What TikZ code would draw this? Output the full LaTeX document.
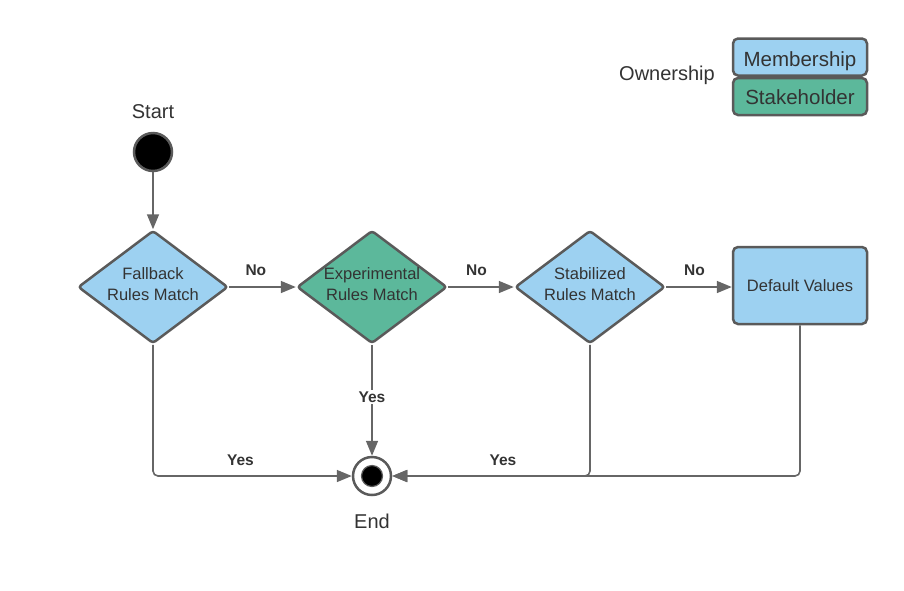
\documentclass[tikz,border=0pt]{standalone}
\usepackage{fontspec}
\setmainfont{Liberation Sans}
\usetikzlibrary{shapes.geometric,arrows.meta,positioning}
\definecolor{member}{HTML}{9DD1F1}
\definecolor{stake}{HTML}{5CB89B}
\definecolor{outline}{HTML}{5A5A5A}
\definecolor{flowgray}{HTML}{666666}
\definecolor{txt}{HTML}{333333}
\tikzset{
%%%%%%%%%% Node styles
decision/.style={diamond, draw=outline, line width=2.5pt, rounded corners=3pt,
                 inner sep=0pt, minimum width=150pt, minimum height=113pt,
                 shape aspect=1.33},
rulestext/.style={align=center, text=txt, yshift=3pt,
                  font=\fontsize{16.5}{21}\selectfont},
action/.style={rectangle, draw=outline, line width=2.5pt, rounded corners=5pt,
               minimum width=134pt, minimum height=77pt, align=center, text=txt,
               font=\fontsize{16.5}{21}\selectfont},
ownbox/.style={rectangle, draw=outline, line width=2.5pt, rounded corners=5pt,
               minimum width=134pt, minimum height=37pt, text=txt,
               font=\fontsize{20.5}{24}\selectfont},
startdot/.style={circle, fill=black, draw=outline, line width=2.5pt,
                 minimum size=38pt, inner sep=0pt},
enddot/.style={circle, fill=white, draw=outline, line width=2.5pt,
               minimum size=38pt, inner sep=0pt},
caption/.style={text=txt, inner sep=0pt, font=\fontsize{20}{24}\selectfont},
%%%% edge styles
flow/.style={draw=flowgray, line width=1.6pt},
answer/.style={text=txt, inner sep=2pt, font=\fontsize{15.5}{18}\bfseries\selectfont}
}
\tikzset{>={Triangle[length=15pt,width=12pt]}}

\begin{document}
\begin{tikzpicture}[x=1pt,y=-1pt]
\useasboundingbox (0,0) rectangle (904,590);
%% legend
\node[caption] (owner) at (667,75) {Ownership};
\node[ownbox, fill=member, text depth=4pt, text height=23pt] (member) at (800,57) {Membership};
\node[ownbox, fill=stake, text depth=4pt, text height=19pt] (stake) at (800,96.5) {Stakeholder};
%% start and end
\node[caption] (starttxt) at (153,112) {Start};
\node[startdot] (start) at (153,152) {};
\node[enddot] (finish) at (372,476) {};
\filldraw[fill=black, draw=outline, line width=1.2pt] (finish.center) circle (10.5);
\node[caption] (endtxt) at (372,521) {End};
%% rules
\node[decision, fill=member, label={[rulestext]center:Fallback\\Rules Match}] (fallback) at (153,287) {};
\node[decision, fill=stake, label={[rulestext]center:Experimental\\Rules Match}] (experimental) at (372,287) {};
\node[decision, fill=member, label={[rulestext]center:Stabilized\\Rules Match}] (stabilized) at (590,287) {};
\node[action, fill=member] (default) at (800,285.5) {Default Values};
%% connectors
\draw[flow,->] (start) -- (fallback);
\draw[flow,->] (fallback) -- node[answer, above=9pt, pos=0.4] {No} (experimental);
\draw[flow,->] (experimental) -- node[answer, above=9pt, pos=0.43] {No} (stabilized);
\draw[flow,->] (stabilized) -- node[answer, above=9pt, pos=0.43] {No} (stabilized.east -| default.west);
\draw[flow,->] (experimental) -- node[answer, fill=white, pos=0.47] {Yes} (finish);
\draw[flow,->,rounded corners=5pt] (fallback.south) |- node[answer, above=8pt, pos=0.72] {Yes} (finish.west);
\draw[flow,->,rounded corners=5pt] (default.south) |- (finish.east);
\draw[flow,->,rounded corners=5pt] (stabilized.south) |- node[answer, above=8pt, pos=0.72] {Yes} (finish.east);
\end{tikzpicture}
\end{document}
